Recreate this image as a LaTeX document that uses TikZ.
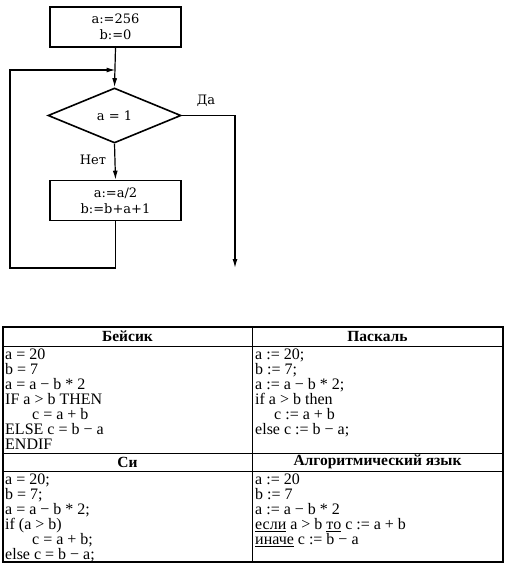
\documentclass[tikz,border=0pt]{standalone}
\usepackage{fontspec}
\setmainfont{Liberation Serif}
\newfontfamily\chartfont{DejaVu Serif}
\newcommand\tightlines{\lineskiplimit=-20pt\relax}
\usepackage{tikz}
\usetikzlibrary{arrows.meta,positioning,shapes.geometric}

\begin{document}
\begin{tikzpicture}[
    x=1pt, y=-1pt,
    every node/.style={font=\chartfont\fontsize{13}{16}\selectfont},
    block/.style={rectangle, draw, line width=1.6pt, minimum width=131pt,
        minimum height=40pt, align=center, inner sep=1pt},
    decision/.style={diamond, draw, line width=1.6pt, minimum width=133pt,
        minimum height=55pt, inner sep=0pt},
    arrow/.style={-{Latex[length=9pt,width=5pt]}, line width=1.2pt},
    head/.style={font=\fontsize{15.5}{15}\selectfont\bfseries},
    code/.style={anchor=north west, align=left, inner sep=1pt,
        font=\fontsize{16}{15}\selectfont\tightlines},
    ]
    \useasboundingbox (0,0) rectangle (507,565);
    % Flowchart
    \node[block]    (init) at (115.5,27)  {a:=256\\b:=0};
    \node[decision] (cond) at (114.5,115.5) {a = 1};
    \node[block]    (upd)  at (115.5,200.5) {a:=a/2\\b:=b+a+1};
    \coordinate (join)   at (115.5,70);
    \coordinate (loopbl) at (10,268);
    \coordinate (yesend) at (235,268);
    \node (yes) at (206,101) {Да};
    \node (no)  at (93,160)  {Нет};
    % Arrows
    \draw[arrow] (init.south) -- (cond.north);
    \draw[arrow] (cond.south) -- (upd.north);
    \draw[arrow] (cond.east) -| (yesend);
    \draw[arrow] (upd.south) |- (loopbl) |- (join);
    % Table
    \draw[line width=1.1pt] (3,327) rectangle (503,562);
    \draw[line width=0.9pt] (3,346) -- (503,346);
    \draw[line width=0.9pt] (3,453) -- (503,453);
    \draw[line width=0.9pt] (3,471) -- (503,471);
    \draw[line width=0.9pt] (252,327) -- (252,562);
    % Headers
    \node[head] (hbas) at (127.5,336.5) {Бейсик};
    \node[head] (hpas) at (377.5,336.5) {Паскаль};
    \node[head] (hc)   at (127.5,462)   {Си};
    \node[head] (halg) at (377.5,462)   {Алгоритмический язык};
    % Code
    \node[code] (cbas) at (4,347.5) {a = 20\\b = 7\\a = a − b * 2\\IF a > b THEN\\
        \hspace*{27pt}c = a + b\\ELSE c = b − a\\ENDIF};
    \node[code] (cpas) at (254,347.5) {a := 20;\\b := 7;\\a := a − b * 2;\\if a > b then\\
        \hspace*{19pt}c := a + b\\else c := b − a;};
    \node[code] (cc)   at (4,472.5) {a = 20;\\b = 7;\\a = a − b * 2;\\if (a > b)\\
        \hspace*{27pt}c = a + b;\\else c = b − a;};
    \node[code] (calg) at (254,472.5) {a := 20\\b := 7\\a := a − b * 2\\
        \underline{если} a > b \underline{то} c := a + b\\\underline{иначе} c := b − a};
  \end{tikzpicture}
\end{document}
